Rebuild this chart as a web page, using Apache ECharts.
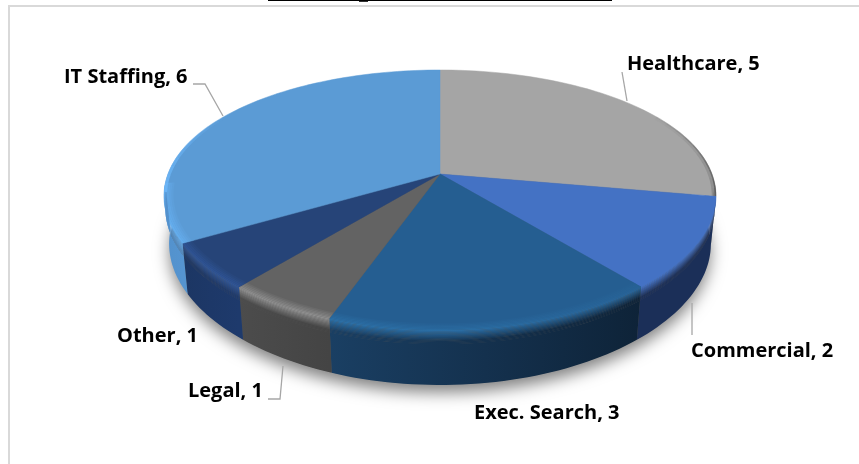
<!DOCTYPE html>
<html>
<head>
<meta charset="utf-8">
<style>
  html, body { margin: 0; padding: 0; background: #fff; }
  #chart { width: 859px; height: 464px; }
</style>
<script src="https://cdn.jsdelivr.net/npm/echarts@6/dist/echarts.min.js"></script>
</head>
<body>
<div id="chart"></div>
<script>
const categories = ["Healthcare", "Commercial", "Exec. Search", "Legal", "Other", "IT Staffing"];
const values = [5, 2, 3, 1, 1, 6];

const topColors = ["#a5a5a5", "#4472c4", "#255e91", "#636363", "#264478", "#5b9bd5"];
const highlightColors = ["#a5a5a5", "#4472c4", "#2b6fa6", "#8f8f8f", "#2f5597", "#66b0f2"];
const sideLeftColors = ["#7a7a7a", "#1b2f58", "#1a3f63", "#4c4c4c", "#1c3663", "#4a87c2"];
const sideRightColors = ["#7a7a7a", "#1b2f58", "#0e2338", "#444444", "#1e3a6c", "#5594d0"];

const labelSpots = [[627, 64], [691, 351], [474, 413], [188, 391], [117, 336], [64, 77]];
const leaderLines = [
  [[627, 101], [622, 72]],
  [[692, 303], [692, 335]],
  null,
  [[283, 366], [280, 399], [268, 399]],
  null,
  [[223, 116], [205, 84], [193, 84]]
];

// pie seen from above, perspective keeps the apex above the middle of the ellipse
const cx = 440, cy = 174, rx = 272, ry = 124.8, perspX = 0.17, perspY = 0.2, depth = 47;
const baseShrink = 0.018;

function project(deg, r, drop) {
  const a = (deg * Math.PI) / 180;
  const u = Math.sin(a) * r;
  const v = -Math.cos(a) * r;
  const wy = 1 / (1 - perspY * v);
  return [cx + (rx * u) / (1 - perspX * v), cy + ry * v * wy + (drop || 0) * wy];
}

function arcPoints(from, to, r, drop) {
  const pts = [];
  const n = Math.max(2, Math.ceil(Math.abs(to - from) / 1.5));
  for (let i = 0; i <= n; i++) {
    pts.push(project(from + ((to - from) * i) / n, r, drop));
  }
  return pts;
}

const total = values.reduce((s, v) => s + v, 0);
const edges = [0];
values.forEach((v, i) => edges.push(edges[i] + v));
const toAngle = (v) => echarts.number.linearMap(v, [0, total], [0, 360]);

// colour of the rim at a height step along the slice: bevel first, then the side wall
function rimColor(i, level, t, angle) {
  const glow = Math.max(0, Math.min(1, (angle - 125) / 55));
  const hi = echarts.color.lerp(glow, [topColors[i], highlightColors[i]]);
  const side = echarts.color.lerp(t, [sideRightColors[i], sideLeftColors[i]]);
  if (level.bevel < 1) return echarts.color.lerp(level.bevel, [topColors[i], hi]);
  return echarts.color.lerp(Math.min(1, level.fade), [hi, side]);
}

const wallRadius = (d) => 1 - (baseShrink * d) / depth;
const strips = [];
for (let k = 0; k < 6; k++) strips.push({ r0: 0.96 + k * 0.0067, r1: 0.96 + (k + 1) * 0.0067, d0: 0, d1: 0, bevel: k / 6, fade: 0 });
for (let k = 0; k < 12; k++) strips.push({ r0: wallRadius(k), r1: wallRadius(k + 1.2), d0: k, d1: k + 1.2, bevel: 1, fade: k / 9 });
strips.push({ r0: wallRadius(12), r1: wallRadius(depth), d0: 12, d1: depth, bevel: 1, fade: 1 });

function sideStrips(i, a0, a1) {
  const start = Math.max(a0, 94);
  const end = Math.min(a1, 266);
  if (end <= start) return [];
  const xa = project(start, 1)[0];
  const xb = project(end, 1)[0];
  return strips.map((s) => {
    const stops = [0, 0.5, 1].map((f) => ({
      offset: f,
      color: rimColor(i, s, (start + (end - start) * f - a0) / (a1 - a0), start + (end - start) * f)
    }));
    return {
      type: "polygon",
      shape: { points: arcPoints(start, end, s.r0, s.d0).concat(arcPoints(end, start, s.r1, s.d1)) },
      style: { fill: new echarts.graphic.LinearGradient(xa, 0, xb, 0, stops, true) }
    };
  });
}

function renderSlice(params, api) {
  const i = params.dataIndex;
  const a0 = toAngle(edges[i]);
  const a1 = toAngle(edges[i + 1]);
  const children = [];

  children.push({
    type: "polygon",
    shape: { points: [[cx, cy]].concat(arcPoints(a0, a1, 1)) },
    style: { fill: topColors[i], stroke: topColors[i], lineWidth: 0.5 }
  });
  sideStrips(i, a0, a1).forEach((c) => children.push(c));

  if (i === 0) {
    // dark rim on the far right of the grey slice
    for (let a = 56; a < 100; a += 4) {
      const op = (a - 56) / 44;
      children.push({
        type: "polyline",
        shape: { points: arcPoints(a, a + 4, 0.992) },
        style: { stroke: "#6a6a6a", lineWidth: 4, fill: null, opacity: op * 0.45 }
      });
      children.push({
        type: "polyline",
        shape: { points: arcPoints(a, a + 4, 0.998) },
        style: { stroke: "#4d4d4d", lineWidth: 1.5, fill: null, opacity: op * 0.8 }
      });
    }
  }
  if (i === 5) {
    for (let a = 262; a < 300; a += 4) {
      children.push({
        type: "polyline",
        shape: { points: arcPoints(a, a + 4, 0.995) },
        style: { stroke: "#6bb4f5", lineWidth: 3, fill: null, opacity: 1 - (a - 262) / 38 }
      });
    }
  }

  if (leaderLines[i]) {
    children.push({
      type: "polyline",
      shape: { points: leaderLines[i] },
      style: { stroke: "#a6a6a6", lineWidth: 1.3, fill: null }
    });
  }
  children.push({
    type: "text",
    style: {
      x: labelSpots[i][0],
      y: labelSpots[i][1],
      text: categories[api.value(0)] + ", " + values[api.value(0)],
      fill: "#000",
      font: 'bold 20px "Open Sans"',
      textAlign: "left",
      textVerticalAlign: "middle"
    }
  });
  return { type: "group", children };
}

function renderShadow() {
  return {
    type: "polygon",
    shape: { points: arcPoints(0, 360, 1 - baseShrink - 0.003, depth) },
    style: { fill: "#555", shadowBlur: 16, shadowColor: "rgba(0,0,0,0.5)", shadowOffsetY: 8 }
  };
}

const chart = echarts.init(document.getElementById("chart"), null, { renderer: "canvas" });
chart.setOption({
  animation: false,
  graphic: [
    { type: "polyline", silent: true, shape: { points: [[9, 464], [9, 6], [859, 6]] }, style: { stroke: "#d9d9d9", lineWidth: 2, fill: null } },
    { type: "line", silent: true, shape: { x1: 268, y1: 0.5, x2: 612, y2: 0.5 }, style: { stroke: "#000", lineWidth: 1 } },
    { type: "line", silent: true, shape: { x1: 359, y1: 1.5, x2: 368, y2: 1.5 }, style: { stroke: "#333", lineWidth: 1 } }
  ],
  series: [
    { type: "custom", coordinateSystem: "none", silent: true, z: 1, data: [0], renderItem: renderShadow },
    { type: "custom", coordinateSystem: "none", silent: true, z: 2, data: categories.map((c, i) => [i]), renderItem: renderSlice }
  ]
});
</script>
</body>
</html>
